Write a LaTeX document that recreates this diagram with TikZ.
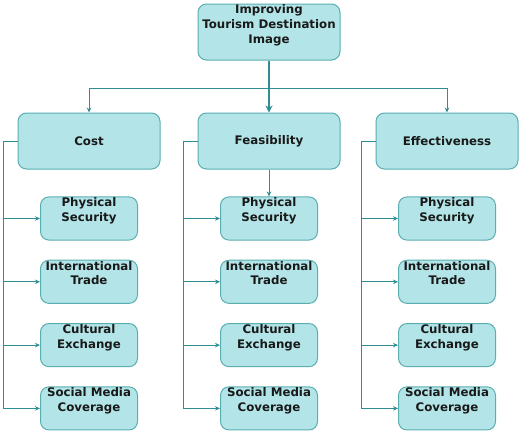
\documentclass[tikz,border=0pt]{standalone}
\usepackage{fontspec}
\setmainfont{DejaVu Sans}
\usetikzlibrary{positioning, arrows.meta}
\definecolor{boxfill}{HTML}{B3E5E8}
\definecolor{boxline}{HTML}{5AAEB0}
\definecolor{linkcol}{HTML}{2E8E94}
\tikzset{x=1pt, y=1pt,
node distance=63.3pt, % Distance between the rows of sub-goals
every node/.style={font=\bfseries\fontsize{11.8}{15.3}\selectfont, text=black!90},
box/.style={ % Common look of all boxes
draw=boxline, fill=boxfill, rounded corners=8.5pt, line width=1pt, align=center},
goal/.style={box, minimum width=142pt, minimum height=56pt, inner sep=0pt, text depth=16pt},
crit/.style={box, minimum width=142pt, minimum height=56pt},
leaf/.style={box, minimum width=97pt, minimum height=43pt, inner xsep=2pt, inner ysep=1pt,
font=\bfseries\fontsize{11.8}{14.7}\selectfont, text depth=17.5pt},
link/.style={ % Connectors with small arrow heads
draw=linkcol, line width=1pt, -{Stealth[length=5pt, width=4.5pt]}}}

\begin{document}
\begin{tikzpicture}
    \useasboundingbox (0,0) rectangle (520,-432);

    \node[goal] (top) at (269,-32) {Improving\\Tourism Destination\\Image};
    \node[crit, below of=top, yshift=-45.7pt] (feas) {Feasibility};
    \node[crit, left of=feas, xshift=-116.7pt] (cost) {Cost};
    \node[crit, right of=feas, xshift=114.7pt] (eff) {Effectiveness};

    \foreach \col in {cost, feas, eff} {
        \node[leaf, below of=\col, yshift=-14.2pt] (\col1) {Physical\\Security};
        \node[leaf, below of=\col1] (\col2) {International\\Trade};
        \node[leaf, below of=\col2] (\col3) {Cultural\\Exchange};
        \node[leaf, below of=\col3] (\col4) {Social Media\\Coverage};
        \coordinate[left=14.5pt of \col.west] (\col-t);
    }

    \coordinate[below=28pt of top.south] (bus);
    \draw[link, line width=2pt, -{Stealth[length=7pt, width=7pt]}] (top) -- (feas);
    \draw[link] (bus) -| (cost);
    \draw[link] (bus) -| (eff);
    \draw[link] (feas) -- (feas1);

    \foreach \col in {cost, feas, eff} {
        \draw[link] (\col.west) -- (\col-t) |- (\col4.west);
        \foreach \i in {1,2,3}
            \draw[link] (\col-t |- \col\i.west) -- (\col\i.west);
    }

\end{tikzpicture}
\end{document}
